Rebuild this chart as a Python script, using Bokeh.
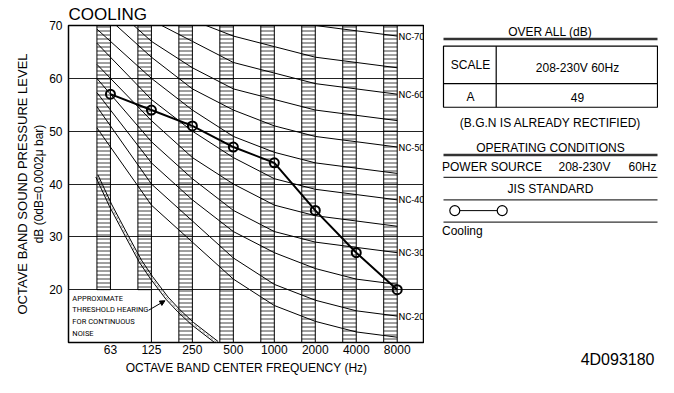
from bokeh.plotting import figure
from bokeh.models import Range1d, FixedTicker, LinearAxis, Arrow, NormalHead, Title
from bokeh.layouts import row
from bokeh.embed import file_html
from bokeh.resources import INLINE
from bokeh.core.properties import value

# ---------------- data ----------------
FREQS = ["63", "125", "250", "500", "1000", "2000", "4000", "8000"]
COOLING_DB = [57, 54, 51, 47, 44, 35, 27, 20]

NC_15 = [47, 36, 29, 22, 17, 14, 12, 11]
NC_20 = [51, 40, 33, 26, 21, 18, 16, 15]
NC_25 = [54, 44, 37, 31, 27, 24, 22, 21]
NC_30 = [57, 48, 41, 35, 31, 29, 28, 27]
NC_35 = [60, 52, 45, 40, 36, 34, 33, 32]
NC_40 = [64, 56, 50, 45, 41, 39, 38, 37]
NC_45 = [67, 60, 54, 49, 46, 44, 43, 42]
NC_50 = [71, 64, 58, 54, 51, 49, 48, 47]
NC_55 = [74, 67, 62, 58, 56, 54, 53, 52]
NC_60 = [77, 71, 67, 63, 61, 59, 58, 57]
NC_65 = [80, 75, 71, 68, 66, 64, 63, 62]
NC_70 = [83, 79, 75, 72, 71, 70, 69, 68]
NC_CURVES = [NC_15, NC_20, NC_25, NC_30, NC_35, NC_40, NC_45, NC_50, NC_55, NC_60, NC_65, NC_70]
NC_NAMES = ["NC-15", "NC-20", "NC-25", "NC-30", "NC-35", "NC-40", "NC-45",
            "NC-50", "NC-55", "NC-60", "NC-65", "NC-70"]
NC_LABELED = ["NC-20", "NC-30", "NC-40", "NC-50", "NC-60", "NC-70"]

# threshold of hearing curve (x in octave-band index units)
THRESH_X = [-0.33, 0.0, 0.41, 0.73, 1.0, 1.38, 1.67, 2.0, 2.6]
THRESH_DB = [41.5, 36.0, 30.0, 25.4, 22.3, 18.4, 16.0, 13.6, 10.0]
THRESH_TEXT = ["APPROXIMATE", "THRESHOLD HEARING", "FOR CONTINUOUS", "NOISE"]

Y_TICKS = [20, 30, 40, 50, 60, 70]

FONT = "Liberation Sans"
SMALL = "Roboto"

TOP, BOTTOM, H = 25, 34, 377

# ---------------- main chart ----------------
p = figure(width=424, height=H, x_range=Range1d(-1.024, 7.666), y_range=Range1d(10, 70),
           output_backend="svg", toolbar_location=None,
           min_border_left=68, min_border_right=0, min_border_top=TOP, min_border_bottom=BOTTOM,
           background_fill_color="white", border_fill_color="white")
p.title.text = "COOLING"
p.title.text_font = FONT
p.title.text_font_size = "17px"
p.title.text_font_style = "normal"
p.title.text_color = "black"
p.title.align = "left"
p.title.standoff = 4

p.outline_line_color = "black"
p.outline_line_width = 1.5
p.outline_line_alpha = 1.0

idx = list(range(len(FREQS)))
p.xaxis.ticker = FixedTicker(ticks=idx)
p.xaxis.major_label_overrides = {i: f for i, f in enumerate(FREQS)}
p.yaxis.ticker = FixedTicker(ticks=Y_TICKS)
for ax in (p.xaxis[0], p.yaxis[0]):
    ax.axis_line_color = None
    ax.major_tick_line_color = None
    ax.minor_tick_line_color = None
    ax.major_tick_out = 0
    ax.major_tick_in = 0
    ax.minor_tick_out = 0
    ax.minor_tick_in = 0
    ax.major_label_text_font = FONT
    ax.major_label_text_font_size = "12px"
    ax.major_label_text_color = "black"
    ax.axis_label_text_font = FONT
    ax.axis_label_text_font_style = "normal"
    ax.axis_label_text_color = "black"
p.xaxis.major_label_standoff = 2
p.xaxis.axis_label = "OCTAVE BAND CENTER FREQUENCY (Hz)"
p.xaxis.axis_label_text_font_size = "12px"
p.xaxis.axis_label_standoff = 4
p.yaxis.major_label_standoff = 6
p.yaxis.axis_label = "dB (0dB=0.0002\u03bc bar)"
p.yaxis.axis_label_text_font_size = "12px"
p.yaxis.axis_label_standoff = 0

outer = LinearAxis(axis_label="OCTAVE BAND SOUND PRESSURE LEVEL", ticker=FixedTicker(ticks=[]),
                   axis_line_color=None, major_tick_line_color=None, minor_tick_line_color=None,
                   major_tick_out=0, major_tick_in=0, minor_tick_out=0, minor_tick_in=0,
                   major_label_text_font_size="0px", major_label_standoff=0,
                   axis_label_standoff=0,
                   axis_label_text_font=FONT, axis_label_text_font_size="13px",
                   axis_label_text_font_style="normal", axis_label_text_color="black")
p.add_layout(outer, "left")

p.xgrid.visible = False
p.ygrid.ticker = FixedTicker(ticks=[20, 30, 40, 50, 60])
p.ygrid.grid_line_color = "#222222"
p.ygrid.grid_line_width = 1

# hatched octave-band columns (left of each centre frequency)
BW = 0.33
p.quad(left=[i - BW for i in idx], right=idx,
       bottom=[20, 20] + [10] * (len(idx) - 2), top=[70] * len(idx),
       fill_color=None, line_color="black", line_width=1,
       hatch_pattern="horizontal_line", hatch_scale=4, hatch_weight=1,
       hatch_color="black", hatch_alpha=0.75)

# NC curves
xs, ys = [], []
for vals in NC_CURVES:
    x0 = -BW
    y0 = vals[0] + (vals[0] - vals[1]) * BW
    xs.append([x0] + idx)
    ys.append([y0] + vals)
p.multi_line(xs, ys, line_color="black", line_width=1)

lab_y = [NC_CURVES[NC_NAMES.index(n)][-1] for n in NC_LABELED]
p.text(x=[7.03] * len(NC_LABELED), y=lab_y, text=NC_LABELED,
       text_font=value(SMALL), text_font_size="9.5px", text_baseline="middle",
       text_align="left", text_color="black")

# threshold of hearing double line
dx, dy = 0.026, 0.2
p.line([x + dx for x in THRESH_X], [y + dy for y in THRESH_DB], line_color="black", line_width=1)
p.line([x - dx for x in THRESH_X], [y - dy for y in THRESH_DB], line_color="black", line_width=1)
p.line(THRESH_X, THRESH_DB, line_color="#777777", line_width=0.8, line_dash="3 2")

# text box for threshold
p.segment(x0=[1], y0=[10], x1=[1], y1=[20], line_color="black", line_width=1)
p.text(x=[-0.93] * 4, y=[18.4, 16.2, 14.0, 11.7], text=THRESH_TEXT,
       text_font=value(SMALL), text_font_size="7.5px", text_baseline="middle",
       text_align="left", text_color="black")
p.add_layout(Arrow(end=NormalHead(size=5, fill_color="black", line_color="black"),
                   x_start=0.93, y_start=16.1, x_end=1.33, y_end=17.9,
                   line_color="black", line_width=1))

# measured cooling data
p.line(idx, COOLING_DB, line_color="black", line_width=2)
p.scatter(idx, COOLING_DB, marker="circle", size=9, fill_color=None,
          line_color="black", line_width=2)

# ---------------- right-hand information panel ----------------
W2 = 658 - 424
q = figure(width=W2, height=H, x_range=Range1d(424, 658), y_range=Range1d(H - BOTTOM, TOP),
           output_backend="svg", toolbar_location=None, x_axis_location=None,
           y_axis_location=None, min_border_left=0, min_border_right=0,
           min_border_top=TOP, min_border_bottom=BOTTOM,
           background_fill_color="white", border_fill_color="white")
q.outline_line_color = None
q.grid.visible = False
q.add_layout(Title(text="4D093180", text_font=FONT, text_font_size="16px",
                   text_font_style="normal", text_color="black", align="right",
                   offset=4, standoff=13), "below")

def txt(x, y, s, align="center", size="12px"):
    q.text(x=[x], y=[y], text=[s], text_font=value(FONT), text_font_size=size,
           text_align=align, text_baseline="middle", text_color="black")

L, R = 443, 657
C = (L + R) / 2
txt(C, 32, "OVER ALL (dB)")
q.segment(x0=[L], y0=[38.5], x1=[R], y1=[38.5], line_color="#333333", line_width=2.5)
q.quad(left=[L], right=[R], top=[45.7], bottom=[107], fill_color=None,
       line_color="black", line_width=1.2)
q.segment(x0=[L, 495.7], y0=[83.3, 45.7], x1=[R, 495.7], y1=[83.3, 107],
          line_color="black", line_width=1.2)
txt(470, 65, "SCALE")
txt(577, 68, "208-230V 60Hz")
txt(470, 96.7, "A")
txt(577, 97, "49")
txt(C, 123, "(B.G.N IS ALREADY RECTIFIED)")
txt(C, 148, "OPERATING CONDITIONS")
q.segment(x0=[L], y0=[155], x1=[R], y1=[155], line_color="#333333", line_width=2.5)
txt(441.5, 167, "POWER SOURCE", align="left")
txt(558, 167, "208-230V", align="left")
txt(628, 167, "60Hz", align="left")
q.segment(x0=[L, L, L], y0=[177.3, 200, 222.3], x1=[R, R, R], y1=[177.3, 200, 222.3],
          line_color="#333333", line_width=1.2)
txt(C, 189, "JIS STANDARD")
q.line([454.3, 501.7], [210.7, 210.7], line_color="black", line_width=1)
q.scatter([454.3, 501.7], [210.7, 210.7], marker="circle", size=10, fill_color="white",
          line_color="black", line_width=1.2)
txt(441.5, 231, "Cooling", align="left")

layout = row(p, q)
open("out.html", "w").write(file_html(layout, INLINE))
